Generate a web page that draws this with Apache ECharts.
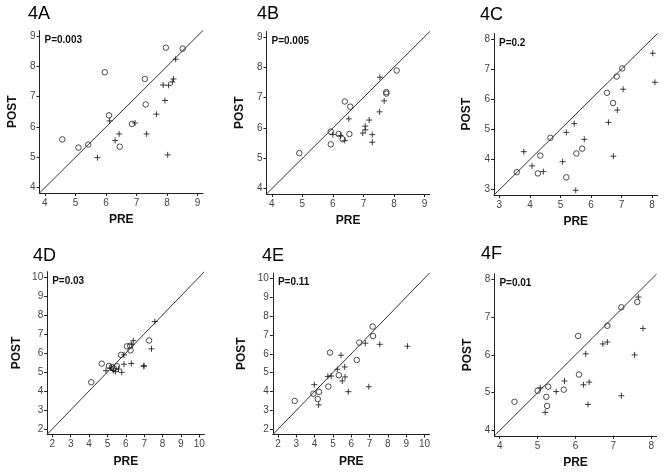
<!DOCTYPE html>
<html><head><meta charset="utf-8">
<script src="https://cdn.jsdelivr.net/npm/echarts@6/dist/echarts.min.js"></script>
<style>html,body{margin:0;padding:0;background:#fff}#c{width:664px;height:475px}</style>
</head><body><div id="c"></div>
<script>
const panelNames = ['4A','4B','4C','4D','4E','4F'];
const pLabels = ['P=0.003','P=0.005','P=0.2','P=0.03','P=0.11','P=0.01'];
const xName = 'PRE';
const yName = 'POST';
const ticksA = [4,5,6,7,8,9];
const ticksB = [4,5,6,7,8,9];
const ticksC = [3,4,5,6,7,8];
const ticksD = [2,3,4,5,6,7,8,9,10];
const ticksE = [2,3,4,5,6,7,8,9,10];
const ticksF = [4,5,6,7,8];

// 4A
const aCirclePre  = [4.57,5.10,5.42,5.96,6.10,6.45,6.85,7.27,7.30,7.96,8.51];
const aCirclePost = [5.59,5.32,5.42,7.80,6.38,5.35,6.10,7.58,6.74,8.61,8.58];
const aPlusPre  = [5.72,6.12,6.30,6.43,6.95,7.33,7.65,7.87,7.93,8.05,8.02,8.17,8.21,8.28];
const aPlusPost = [4.99,6.20,5.55,5.77,6.13,5.77,6.42,7.38,6.87,7.37,5.08,7.48,7.58,8.23];
// 4B
const bCirclePre  = [4.90,5.93,5.93,6.19,6.32,6.54,6.39,6.57,7.75,7.75,8.09];
const bCirclePost = [5.17,5.88,5.46,5.80,5.63,5.80,6.87,6.70,7.18,7.13,7.89];
const bPlusPre  = [6.00,6.25,6.39,6.52,6.98,7.06,7.06,7.19,7.29,7.29,7.53,7.68,7.54];
const bPlusPost = [5.78,5.75,5.59,6.30,5.83,5.94,6.06,6.26,5.78,5.53,6.53,6.89,7.67];
// 4C
const cCirclePre  = [3.57,4.26,4.34,4.67,5.19,5.52,5.71,6.52,6.72,6.84,7.02];
const cCirclePost = [3.58,3.54,4.13,4.72,3.41,4.20,4.36,6.21,5.87,6.75,7.02];
const cPlusPre  = [3.80,4.07,4.44,5.07,5.19,5.45,5.50,5.78,6.57,6.73,6.86,7.05,8.02,8.09];
const cPlusPost = [4.26,3.79,3.60,3.93,4.90,5.19,2.98,4.67,5.23,4.11,5.64,6.33,7.52,6.56];
// 4D
const dCirclePre  = [4.12,4.69,5.08,5.25,5.35,5.52,5.74,6.06,6.24,6.26,7.27];
const dCirclePost = [4.46,5.44,5.32,5.26,5.18,5.30,5.90,6.35,6.38,6.14,6.66];
const dPlusPre  = [4.92,5.18,5.32,5.43,5.60,5.78,5.90,5.90,6.30,6.32,6.41,6.99,6.98,7.40,7.58];
const dPlusPost = [5.07,5.21,5.08,5.02,5.15,4.98,5.41,5.90,5.45,6.46,6.65,5.33,5.30,6.22,7.66];
// 4E
const eCirclePre  = [2.91,3.93,4.17,4.24,4.75,4.84,5.32,6.30,6.44,7.17,7.19];
const eCirclePost = [3.50,3.88,3.60,3.98,4.26,6.06,4.86,5.67,6.59,7.44,6.94];
const ePlusPre  = [3.98,4.22,4.72,4.90,5.24,5.44,5.51,5.64,5.66,5.84,6.77,6.96,7.56,9.07];
const ePlusPost = [4.36,3.29,4.80,4.82,5.18,5.92,4.56,5.30,4.77,3.99,6.56,4.25,6.50,6.40];
// 4F
const fCirclePre  = [4.39,5.00,5.23,5.25,5.28,5.69,6.07,6.09,6.84,7.21,7.63];
const fCirclePost = [4.76,5.05,4.89,4.65,5.16,5.08,6.50,5.48,6.77,7.26,7.40];
const fPlusPre  = [5.07,5.20,5.49,5.71,6.21,6.27,6.33,6.36,6.72,6.84,7.21,7.56,7.66,7.78];
const fPlusPost = [5.13,4.48,5.03,5.31,5.21,6.03,4.69,5.28,6.29,6.34,4.92,6.00,7.53,6.70];

const zip = (a,b) => a.map((v,i)=>[v,b[i]]);
const panels = [
  {ticks:ticksA, circles:zip(aCirclePre,aCirclePost), pluses:zip(aPlusPre,aPlusPost)},
  {ticks:ticksB, circles:zip(bCirclePre,bCirclePost), pluses:zip(bPlusPre,bPlusPost)},
  {ticks:ticksC, circles:zip(cCirclePre,cCirclePost), pluses:zip(cPlusPre,cPlusPost)},
  {ticks:ticksD, circles:zip(dCirclePre,dCirclePost), pluses:zip(dPlusPre,dPlusPost)},
  {ticks:ticksE, circles:zip(eCirclePre,eCirclePost), pluses:zip(ePlusPre,ePlusPost)},
  {ticks:ticksF, circles:zip(fCirclePre,fCirclePost), pluses:zip(fPlusPre,fPlusPost)}
];

// layout (pixels)
const grids = [
  {left:39.5, top:30.5, width:163.5, height:162.5},
  {left:266.5, top:31.5, width:163.3, height:162.5},
  {left:494, top:33.5, width:163.5, height:161.5},
  {left:47.2, top:271.7, width:157.2, height:162.6},
  {left:272.9, top:273, width:156.7, height:161.5},
  {left:494.4, top:274, width:162.2, height:161.8}
];
const titlePos = [[28,5],[257,5],[480,6],[33,247],[262,247],[481,245.5]];

const FONT = "'Liberation Sans', Arial, sans-serif";
const AX = '#222';
const plusPath = 'path://M0,5L10,5M5,0L5,10';

const option = {
  animation:false,
  backgroundColor:'#fff',
  textStyle:{fontFamily:FONT},
  grid:[], xAxis:[], yAxis:[], series:[], title:[]
};

panels.forEach((p,i)=>{
  const lo = p.ticks[0], hi = p.ticks[p.ticks.length-1];
  const pad = 0.035*(hi-lo);
  const mn = lo-pad, mx = hi+pad;
  const g = grids[i];
  option.grid.push({left:g.left, top:g.top, width:g.width, height:g.height, containLabel:false});
  const common = {
    type:'value', gridIndex:i, min:mn, max:mx,
    axisLine:{show:true, onZero:false, lineStyle:{color:AX, width:1}},
    axisTick:{show:true, length:3, customValues:p.ticks, lineStyle:{color:AX}},
    splitLine:{show:false},
    nameLocation:'middle',
    nameTextStyle:{fontFamily:FONT, fontWeight:'bold', fontSize:12, color:'#111'}
  };
  option.xAxis.push(Object.assign({}, common, {
    name:xName, nameGap:21,
    axisLabel:{customValues:p.ticks, margin:5, fontSize:10, color:'#444', fontFamily:FONT}
  }));
  option.yAxis.push(Object.assign({}, common, {
    name:yName, nameGap:(hi-lo>=8?25:21),
    axisLabel:{customValues:p.ticks, margin:4, fontSize:10, color:'#444', fontFamily:FONT}
  }));
  option.series.push({
    type:'line', xAxisIndex:i, yAxisIndex:i, data:[[mn,mn],[mx,mx]],
    symbol:'none', silent:true, lineStyle:{color:'#333', width:1}, z:1
  });
  option.series.push({
    type:'scatter', xAxisIndex:i, yAxisIndex:i, data:p.circles,
    symbol:'circle', symbolSize:5.5, silent:true,
    itemStyle:{color:'rgba(0,0,0,0)', borderColor:'#222', borderWidth:1}, z:3
  });
  option.series.push({
    type:'scatter', xAxisIndex:i, yAxisIndex:i, data:p.pluses,
    symbol:plusPath, symbolSize:6, silent:true,
    itemStyle:{color:'rgba(0,0,0,0)', borderColor:'#111', borderWidth:1}, z:3
  });
  option.title.push({
    text:panelNames[i], left:titlePos[i][0], top:titlePos[i][1], padding:0,
    textStyle:{fontFamily:FONT, fontSize:18, fontWeight:'normal', color:'#000'}
  });
  option.title.push({
    text:pLabels[i], left:g.left+5, top:g.top+4.5, padding:0,
    textStyle:{fontFamily:FONT, fontSize:10, fontWeight:'bold', color:'#111'}
  });
});

const chart = echarts.init(document.getElementById('c'), null, {renderer:'canvas'});
chart.setOption(option);
</script>
</body></html>
